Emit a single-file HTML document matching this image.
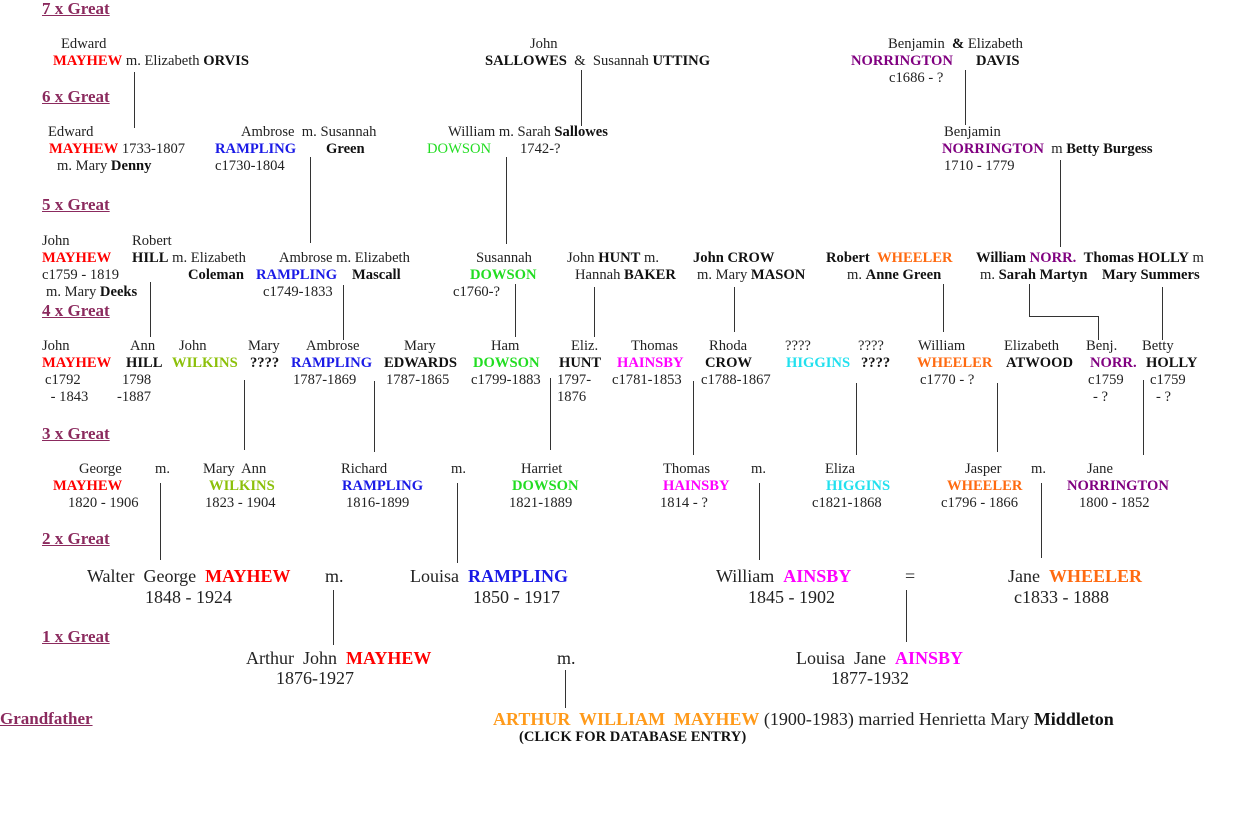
<!DOCTYPE html>
<html><head><meta charset="utf-8">
<style>
html,body{margin:0;padding:0;background:#fff;width:1240px;height:813px;overflow:hidden;position:relative}
body{font-family:"Liberation Serif",serif;font-size:14.6px;color:#222}
.t{position:absolute;white-space:pre;line-height:16px}
.L{font-size:18px;line-height:20px}
.h{position:absolute;white-space:pre;font-size:17px;font-weight:bold;color:#8b2a5e;text-decoration:underline;line-height:18px}
b{font-weight:bold;color:#111}
.r{color:#f00;font-weight:bold}.bl{color:#1a1ae6;font-weight:bold}.g{color:#22dd22;font-weight:bold}
.y{color:#8cc00a;font-weight:bold}.m{color:#f0f;font-weight:bold}.c{color:#22e0ee;font-weight:bold}
.o{color:#ff6a10;font-weight:bold}.p{color:#800080;font-weight:bold}.go{color:#ff9a1a;font-weight:bold}
.v{position:absolute;width:1px;background:#333}
.hl{position:absolute;height:1px;background:#333}
</style></head><body>
<div class="h" style="left:42px;top:0px">7 x Great</div>
<div class="h" style="left:42px;top:88px">6 x Great</div>
<div class="h" style="left:42px;top:196px">5 x Great</div>
<div class="h" style="left:42px;top:302px">4 x Great</div>
<div class="h" style="left:42px;top:425px">3 x Great</div>
<div class="h" style="left:42px;top:530px">2 x Great</div>
<div class="h" style="left:42px;top:628px">1 x Great</div>
<div class="h" style="left:0px;top:710px">Grandfather</div>

<!-- lines -->
<div class="v" style="left:134px;top:72px;height:56px"></div>
<div class="v" style="left:581px;top:70px;height:56px"></div>
<div class="v" style="left:965px;top:70px;height:55px"></div>
<div class="v" style="left:310px;top:157px;height:86px"></div>
<div class="v" style="left:506px;top:157px;height:87px"></div>
<div class="v" style="left:1060px;top:160px;height:87px"></div>
<div class="v" style="left:150px;top:282px;height:55px"></div>
<div class="v" style="left:343px;top:285px;height:55px"></div>
<div class="v" style="left:515px;top:284px;height:53px"></div>
<div class="v" style="left:594px;top:287px;height:50px"></div>
<div class="v" style="left:734px;top:287px;height:45px"></div>
<div class="v" style="left:943px;top:284px;height:48px"></div>
<div class="v" style="left:1029px;top:284px;height:32px"></div>
<div class="hl" style="left:1029px;top:316px;width:70px"></div>
<div class="v" style="left:1098px;top:316px;height:24px"></div>
<div class="v" style="left:1162px;top:287px;height:53px"></div>
<div class="v" style="left:244px;top:380px;height:70px"></div>
<div class="v" style="left:374px;top:381px;height:71px"></div>
<div class="v" style="left:550px;top:378px;height:72px"></div>
<div class="v" style="left:693px;top:381px;height:74px"></div>
<div class="v" style="left:856px;top:383px;height:72px"></div>
<div class="v" style="left:997px;top:383px;height:69px"></div>
<div class="v" style="left:1143px;top:380px;height:75px"></div>
<div class="v" style="left:160px;top:483px;height:77px"></div>
<div class="v" style="left:457px;top:483px;height:80px"></div>
<div class="v" style="left:759px;top:483px;height:77px"></div>
<div class="v" style="left:1041px;top:483px;height:75px"></div>
<div class="v" style="left:333px;top:590px;height:55px"></div>
<div class="v" style="left:906px;top:590px;height:52px"></div>
<div class="v" style="left:565px;top:670px;height:38px"></div>

<!-- 7x -->
<div class="t" style="left:61px;top:36px">Edward</div>
<div class="t" style="left:53px;top:53px"><span class="r">MAYHEW</span> m. Elizabeth <b>ORVIS</b></div>
<div class="t" style="left:530px;top:36px">John</div>
<div class="t" style="left:485px;top:53px"><b>SALLOWES</b>  &amp;  Susannah <b>UTTING</b></div>
<div class="t" style="left:888px;top:36px">Benjamin  <b>&amp;</b> Elizabeth</div>
<div class="t" style="left:851px;top:53px"><span class="p">NORRINGTON</span></div>
<div class="t" style="left:976px;top:53px"><b>DAVIS</b></div>
<div class="t" style="left:889px;top:70px">c1686 - ?</div>

<!-- 6x -->
<div class="t" style="left:48px;top:124px">Edward</div>
<div class="t" style="left:49px;top:141px"><span class="r">MAYHEW</span> 1733-1807</div>
<div class="t" style="left:57px;top:158px">m. Mary <b>Denny</b></div>
<div class="t" style="left:241px;top:124px">Ambrose  m. Susannah</div>
<div class="t" style="left:215px;top:141px"><span class="bl">RAMPLING</span></div>
<div class="t" style="left:326px;top:141px"><b>Green</b></div>
<div class="t" style="left:215px;top:158px">c1730-1804</div>
<div class="t" style="left:448px;top:124px">William m. Sarah <b>Sallowes</b></div>
<div class="t" style="left:427px;top:141px"><span class="g" style="font-weight:normal">DOWSON</span></div>
<div class="t" style="left:520px;top:141px">1742-?</div>
<div class="t" style="left:944px;top:124px">Benjamin</div>
<div class="t" style="left:942px;top:141px"><span class="p">NORRINGTON</span>  m <b>Betty Burgess</b></div>
<div class="t" style="left:944px;top:158px">1710 - 1779</div>

<!-- 5x -->
<div class="t" style="left:42px;top:233px">John</div>
<div class="t" style="left:42px;top:250px"><span class="r">MAYHEW</span></div>
<div class="t" style="left:42px;top:267px">c1759 - 1819</div>
<div class="t" style="left:46px;top:284px">m. Mary <b>Deeks</b></div>
<div class="t" style="left:132px;top:233px">Robert</div>
<div class="t" style="left:132px;top:250px"><b>HILL</b> m. Elizabeth</div>
<div class="t" style="left:188px;top:267px"><b>Coleman</b></div>
<div class="t" style="left:279px;top:250px">Ambrose m. Elizabeth</div>
<div class="t" style="left:256px;top:267px"><span class="bl">RAMPLING</span></div>
<div class="t" style="left:352px;top:267px"><b>Mascall</b></div>
<div class="t" style="left:263px;top:284px">c1749-1833</div>
<div class="t" style="left:476px;top:250px">Susannah</div>
<div class="t" style="left:470px;top:267px"><span class="g">DOWSON</span></div>
<div class="t" style="left:453px;top:284px">c1760-?</div>
<div class="t" style="left:567px;top:250px">John <b>HUNT</b> m.</div>
<div class="t" style="left:575px;top:267px">Hannah <b>BAKER</b></div>
<div class="t" style="left:693px;top:250px"><b>John CROW</b></div>
<div class="t" style="left:697px;top:267px">m. Mary <b>MASON</b></div>
<div class="t" style="left:826px;top:250px"><b>Robert</b>  <span class="o">WHEELER</span></div>
<div class="t" style="left:847px;top:267px">m. <b>Anne Green</b></div>
<div class="t" style="left:976px;top:250px"><b>William</b> <span class="p">NORR.</span>  <b>Thomas HOLLY</b> m</div>
<div class="t" style="left:980px;top:267px">m. <b>Sarah Martyn</b></div>
<div class="t" style="left:1102px;top:267px"><b>Mary Summers</b></div>

<!-- 4x -->
<div class="t" style="left:42px;top:338px">John</div>
<div class="t" style="left:42px;top:355px"><span class="r">MAYHEW</span></div>
<div class="t" style="left:45px;top:372px">c1792</div>
<div class="t" style="left:47px;top:389px"> - 1843</div>
<div class="t" style="left:130px;top:338px">Ann</div>
<div class="t" style="left:126px;top:355px"><b>HILL</b></div>
<div class="t" style="left:122px;top:372px">1798</div>
<div class="t" style="left:117px;top:389px">-1887</div>
<div class="t" style="left:179px;top:338px">John</div>
<div class="t" style="left:172px;top:355px"><span class="y">WILKINS</span></div>
<div class="t" style="left:248px;top:338px">Mary</div>
<div class="t" style="left:250px;top:355px"><b>????</b></div>
<div class="t" style="left:306px;top:338px">Ambrose</div>
<div class="t" style="left:291px;top:355px"><span class="bl">RAMPLING</span></div>
<div class="t" style="left:293px;top:372px">1787-1869</div>
<div class="t" style="left:404px;top:338px">Mary</div>
<div class="t" style="left:384px;top:355px"><b>EDWARDS</b></div>
<div class="t" style="left:386px;top:372px">1787-1865</div>
<div class="t" style="left:491px;top:338px">Ham</div>
<div class="t" style="left:473px;top:355px"><span class="g">DOWSON</span></div>
<div class="t" style="left:471px;top:372px">c1799-1883</div>
<div class="t" style="left:571px;top:338px">Eliz.</div>
<div class="t" style="left:559px;top:355px"><b>HUNT</b></div>
<div class="t" style="left:557px;top:372px">1797-</div>
<div class="t" style="left:557px;top:389px">1876</div>
<div class="t" style="left:631px;top:338px">Thomas</div>
<div class="t" style="left:617px;top:355px"><span class="m">HAINSBY</span></div>
<div class="t" style="left:612px;top:372px">c1781-1853</div>
<div class="t" style="left:709px;top:338px">Rhoda</div>
<div class="t" style="left:705px;top:355px"><b>CROW</b></div>
<div class="t" style="left:701px;top:372px">c1788-1867</div>
<div class="t" style="left:785px;top:338px">????</div>
<div class="t" style="left:786px;top:355px"><span class="c">HIGGINS</span></div>
<div class="t" style="left:858px;top:338px">????</div>
<div class="t" style="left:861px;top:355px"><b>????</b></div>
<div class="t" style="left:918px;top:338px">William</div>
<div class="t" style="left:917px;top:355px"><span class="o">WHEELER</span></div>
<div class="t" style="left:920px;top:372px">c1770 - ?</div>
<div class="t" style="left:1004px;top:338px">Elizabeth</div>
<div class="t" style="left:1006px;top:355px"><b>ATWOOD</b></div>
<div class="t" style="left:1086px;top:338px">Benj.</div>
<div class="t" style="left:1090px;top:355px"><span class="p">NORR.</span></div>
<div class="t" style="left:1088px;top:372px">c1759</div>
<div class="t" style="left:1093px;top:389px">- ?</div>
<div class="t" style="left:1142px;top:338px">Betty</div>
<div class="t" style="left:1146px;top:355px"><b>HOLLY</b></div>
<div class="t" style="left:1150px;top:372px">c1759</div>
<div class="t" style="left:1156px;top:389px">- ?</div>

<!-- 3x -->
<div class="t" style="left:79px;top:461px">George</div>
<div class="t" style="left:155px;top:461px">m.</div>
<div class="t" style="left:53px;top:478px"><span class="r">MAYHEW</span></div>
<div class="t" style="left:68px;top:495px">1820 - 1906</div>
<div class="t" style="left:203px;top:461px">Mary  Ann</div>
<div class="t" style="left:209px;top:478px"><span class="y">WILKINS</span></div>
<div class="t" style="left:205px;top:495px">1823 - 1904</div>
<div class="t" style="left:341px;top:461px">Richard</div>
<div class="t" style="left:451px;top:461px">m.</div>
<div class="t" style="left:342px;top:478px"><span class="bl">RAMPLING</span></div>
<div class="t" style="left:346px;top:495px">1816-1899</div>
<div class="t" style="left:521px;top:461px">Harriet</div>
<div class="t" style="left:512px;top:478px"><span class="g">DOWSON</span></div>
<div class="t" style="left:509px;top:495px">1821-1889</div>
<div class="t" style="left:663px;top:461px">Thomas</div>
<div class="t" style="left:751px;top:461px">m.</div>
<div class="t" style="left:663px;top:478px"><span class="m">HAINSBY</span></div>
<div class="t" style="left:660px;top:495px">1814 - ?</div>
<div class="t" style="left:825px;top:461px">Eliza</div>
<div class="t" style="left:826px;top:478px"><span class="c">HIGGINS</span></div>
<div class="t" style="left:812px;top:495px">c1821-1868</div>
<div class="t" style="left:965px;top:461px">Jasper</div>
<div class="t" style="left:1031px;top:461px">m.</div>
<div class="t" style="left:947px;top:478px"><span class="o">WHEELER</span></div>
<div class="t" style="left:941px;top:495px">c1796 - 1866</div>
<div class="t" style="left:1087px;top:461px">Jane</div>
<div class="t" style="left:1067px;top:478px"><span class="p">NORRINGTON</span></div>
<div class="t" style="left:1079px;top:495px">1800 - 1852</div>

<!-- 2x -->
<div class="t L" style="left:87px;top:566px">Walter  George  <span class="r">MAYHEW</span></div>
<div class="t L" style="left:325px;top:566px">m.</div>
<div class="t L" style="left:145px;top:587px">1848 - 1924</div>
<div class="t L" style="left:410px;top:566px">Louisa  <span class="bl">RAMPLING</span></div>
<div class="t L" style="left:473px;top:587px">1850 - 1917</div>
<div class="t L" style="left:716px;top:566px">William  <span class="m">AINSBY</span></div>
<div class="t L" style="left:905px;top:566px">=</div>
<div class="t L" style="left:748px;top:587px">1845 - 1902</div>
<div class="t L" style="left:1008px;top:566px">Jane  <span class="o">WHEELER</span></div>
<div class="t L" style="left:1014px;top:587px">c1833 - 1888</div>

<!-- 1x -->
<div class="t L" style="left:246px;top:648px">Arthur  John  <span class="r">MAYHEW</span></div>
<div class="t L" style="left:276px;top:668px">1876-1927</div>
<div class="t L" style="left:557px;top:648px">m.</div>
<div class="t L" style="left:796px;top:648px">Louisa  Jane  <span class="m">AINSBY</span></div>
<div class="t L" style="left:831px;top:668px">1877-1932</div>

<!-- grandfather -->
<div class="t L" style="left:493px;top:709px"><span class="go">ARTHUR  WILLIAM  MAYHEW</span> (1900-1983) married Henrietta Mary <b>Middleton</b></div>
<div class="t" style="left:519px;top:729px"><b>(CLICK FOR DATABASE ENTRY)</b></div>
</body></html>
